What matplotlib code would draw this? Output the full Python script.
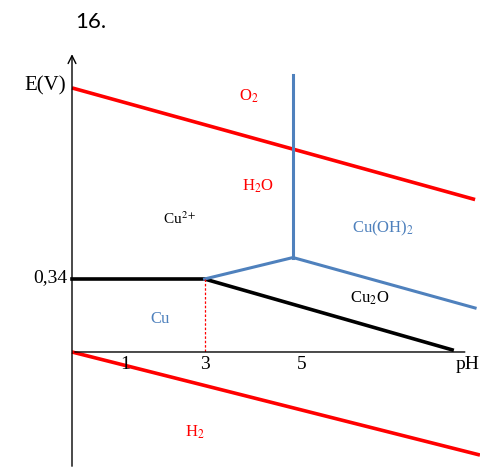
import matplotlib
matplotlib.use("Agg")
import matplotlib.pyplot as plt

plt.rcParams["mathtext.fontset"] = "stix"

# Pourbaix sketch for copper (x = pH, y = E in V)
o2_ph = [0.0, 9.12]
o2_e = [1.23, 0.71]
h2_ph = [0.0, 9.23]
h2_e = [0.0, -0.48]

cu_ph = [0.0, 3.0, 8.6]
cu_e = [0.34, 0.34, 0.01]

cu2_ph = [3.0, 5.0, 9.12]
cu2_e = [0.34, 0.44, 0.205]
vert_ph = [5.0, 5.0]
vert_e = [0.44, 1.29]

dash_ph = [3.0, 3.0]
dash_e = [0.34, 0.0]

tick_pos = [1.2, 3.0, 5.2]
tick_txt = ["1", "3", "5"]

RED = "#ff0000"
BLUE = "#4f81bd"
serif = "Liberation Serif"

fig = plt.figure(figsize=(4.8, 4.69), dpi=100)
ax = fig.add_axes([0, 0, 1, 1])
ax.set_xlim(-1.629, 9.231)
ax.set_ylim(-0.545, 1.6395)
ax.axis("off")

# axes with arrows
ax.annotate("", xy=(0, 1.40), xytext=(0, -0.545),
            arrowprops=dict(arrowstyle="->", lw=1.0, color="black", mutation_scale=14))
ax.annotate("", xy=(8.95, 0), xytext=(0, 0),
            arrowprops=dict(arrowstyle="-", lw=1.0, color="black"))

ax.plot(o2_ph, o2_e, color=RED, lw=2.6, solid_capstyle="butt")
ax.plot(h2_ph, h2_e, color=RED, lw=2.6, solid_capstyle="butt")
ax.plot(cu_ph, cu_e, color="black", lw=2.6)
ax.plot(cu2_ph, cu2_e, color=BLUE, lw=2.2)
ax.plot(vert_ph, vert_e, color=BLUE, lw=2.2)
ax.plot(dash_ph, dash_e, color=RED, lw=0.9, ls=(0, (2, 1.5)))

for p, t in zip(tick_pos, tick_txt):
    ax.text(p, -0.02, t, ha="center", va="top", fontsize=14, family=serif)
ax.text(9.22, -0.02, "pH", ha="right", va="top", fontsize=14, family=serif)

ax.text(-0.13, 1.24, "E(V)", ha="right", va="center", fontsize=15, family=serif)
ax.text(-0.1, 0.345, "0,34", ha="right", va="center", fontsize=14, family=serif)
ax.text(0.07, 1.535, "16.", ha="left", va="center", fontsize=16, family="Lato")

ax.text(4.0, 1.19, r"O$_2$", color=RED, fontsize=12, family=serif, ha="center", va="center")
ax.text(4.2, 0.77, r"H$_2$O", color=RED, fontsize=12, family=serif, ha="center", va="center")
ax.text(2.45, 0.62, r"Cu$^{2+}$", color="black", fontsize=11, family=serif, ha="center", va="center")
ax.text(7.04, 0.575, r"Cu(OH)$_2$", color=BLUE, fontsize=12, family=serif, ha="center", va="center")
ax.text(6.74, 0.25, r"Cu$_2$O", color="black", fontsize=12, family=serif, ha="center", va="center")
ax.text(1.99, 0.155, "Cu", color=BLUE, fontsize=12, family=serif, ha="center", va="center")
ax.text(2.78, -0.375, r"H$_2$", color=RED, fontsize=12, family=serif, ha="center", va="center")

fig.savefig("out.png", dpi=100)
